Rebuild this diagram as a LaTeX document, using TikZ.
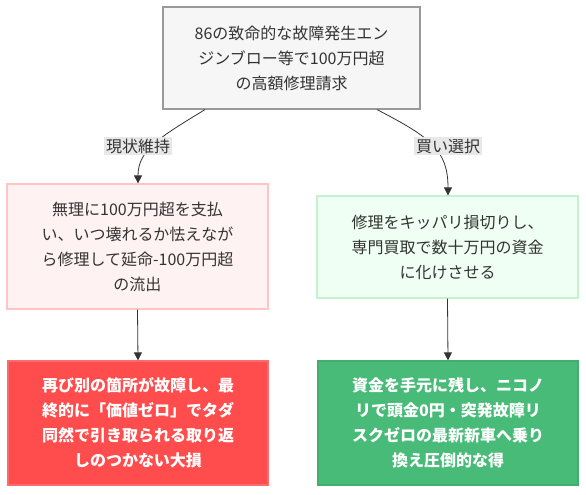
\documentclass[tikz,border=0pt]{standalone}
\usepackage{fontspec}
\setmainfont{Noto Sans CJK JP}
\usetikzlibrary{calc,arrows.meta}
\definecolor{txt}{HTML}{333333}
\definecolor{topfill}{HTML}{F6F6F6}
\definecolor{topdraw}{HTML}{999999}
\definecolor{pinkfill}{HTML}{FFF2F2}
\definecolor{pinkdraw}{HTML}{FFC4C4}
\definecolor{lgfill}{HTML}{F0FFF4}
\definecolor{lgdraw}{HTML}{C3F2CF}
\definecolor{redfill}{HTML}{FF4C4C}
\definecolor{reddraw}{HTML}{FF6B6B}
\definecolor{grfill}{HTML}{48BB78}
\definecolor{grdraw}{HTML}{3FAE6E}
\definecolor{lblfill}{HTML}{E8E8E8}
\definecolor{edge}{HTML}{333333}
\tikzset{
  box/.style={rectangle, align=center, inner sep=0pt, text=txt,
    font=\fontsize{12pt}{18.75pt}\selectfont, line width=0.9pt},
  topbox/.style={box, fill=topfill, draw=topdraw},
  pinkbox/.style={box, fill=pinkfill, draw=pinkdraw},
  lgbox/.style={box, fill=lgfill, draw=lgdraw},
  redbox/.style={box, fill=redfill, draw=reddraw, text=white, font=\fontsize{12pt}{18.75pt}\selectfont\bfseries},
  grbox/.style={box, fill=grfill, draw=grdraw, text=white, font=\fontsize{12pt}{18.75pt}\selectfont\bfseries},
  elabel/.style={fill=lblfill, text=txt, inner sep=1.5pt, font=\fontsize{12pt}{14pt}\selectfont},
  conn/.style={draw=edge, line width=0.6pt, -{Triangle[length=6pt,width=6pt]}},
}
\begin{document}
\begin{tikzpicture}[x=0.75pt,y=-0.75pt]
\useasboundingbox (0,0) rectangle (586,494);
\node[topbox, minimum width={0.75*257pt}, minimum height={0.75*102pt}] (top) at (291.5,58)
  {86の致命的な故障発生エン\\ジンブロー等で100万円超\\の高額修理請求};
\node[pinkbox, minimum width={0.75*261pt}, minimum height={0.75*125pt}] (keep) at (137.5,246.5)
  {無理に100万円超を支払\\い、いつ壊れるか怯えなが\\ら修理して延命-100万円超\\の流出};
\node[lgbox, minimum width={0.75*261pt}, minimum height={0.75*102pt}] (sell) at (447.5,247)
  {修理をキッパリ損切りし、\\専門買取で数十万円の資金\\に化けさせる};
\node[redbox, minimum width={0.75*260pt}, minimum height={0.75*124pt}] (loss) at (138,423)
  {再び別の箇所が故障し、最\\終的に「価値ゼロ」でタダ\\同然で引き取られる取り返\\しのつかない大損};
\node[grbox, minimum width={0.75*260pt}, minimum height={0.75*124pt}] (gain) at (448,423)
  {資金を手元に残し、ニコノ\\リで頭金0円・突発故障リ\\スクゼロの最新新車へ乗り\\換え圧倒的な得};
\coordinate (s1) at ($(top.south)+(-86.5,0)$);
\coordinate (s2) at ($(top.south)+(85.5,0)$);
\draw[conn] (s1) .. controls (160,137) and (138,150) .. (keep.north -| 138,0);
\draw[conn] (s2) .. controls (430,137) and (448,150) .. (sell.north -| 448,0);
\node[elabel] (l1) at (138,146) {現状維持};
\node[elabel] (l2) at (448,146) {買い選択};
\draw[conn] (keep.south) -- (loss.north);
\draw[conn] (sell.south) -- (gain.north);
\end{tikzpicture}
\end{document}
